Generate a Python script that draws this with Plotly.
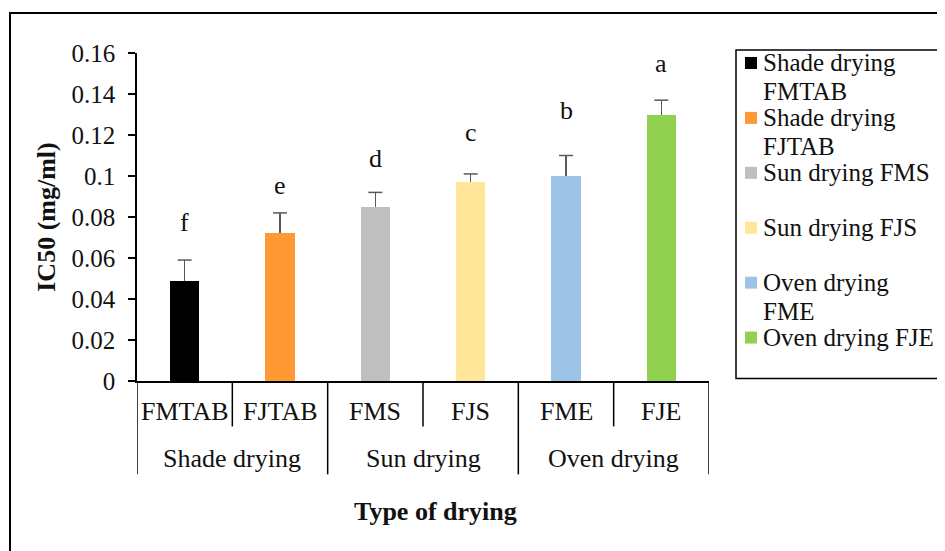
import plotly.graph_objects as go

# ---- data ----
categories = ["FMTAB", "FJTAB", "FMS", "FJS", "FME", "FJE"]
groups = ["Shade drying", "Sun drying", "Oven drying"]
legend_labels = [["Shade drying", "FMTAB"], ["Shade drying", "FJTAB"], ["Sun drying FMS"],
                 ["Sun drying FJS"], ["Oven drying", "FME"], ["Oven drying FJE"]]
ic50 = [0.049, 0.072, 0.085, 0.097, 0.100, 0.130]
err = [0.010, 0.010, 0.007, 0.004, 0.010, 0.007]
letters = ["f", "e", "d", "c", "b", "a"]
letter_y = [0.0773, 0.0953, 0.1084, 0.1210, 0.1318, 0.1547]
y_ticks = [0, 0.02, 0.04, 0.06, 0.08, 0.1, 0.12, 0.14, 0.16]
y_tick_text = ["0", "0.02", "0.04", "0.06", "0.08", "0.1", "0.12", "0.14", "0.16"]

colors = ["#000000", "#FF9933", "#BFBFBF", "#FFE699", "#9DC3E6", "#92D050"]
ERR_COLOR = "#595959"

# ---- layout geometry (window pixels; page body adds an 8px offset) ----
OFF = 8
W, H = 945 - OFF, 551 - OFF
L, R, T, B = 137, 709, 53, 381.5
FONT = "Liberation Serif"
TXT = "#111111"


def px_x(px):
    return (px - L) / (R - L)


def px_y(py):
    return (B - py) / (B - T)


fig = go.Figure()
for i, cat in enumerate(categories):
    fig.add_trace(go.Bar(
        x=[cat], y=[ic50[i]], name=" ".join(legend_labels[i]),
        marker=dict(color=colors[i], line=dict(width=0)),
        width=0.31, showlegend=False,
        error_y=dict(type="data", symmetric=False, array=[err[i]], arrayminus=[0],
                     color=ERR_COLOR, thickness=1.5, width=0),
    ))

# caps on the upper end of the error bars only
fig.add_trace(go.Scatter(
    x=categories, y=[v + e for v, e in zip(ic50, err)], mode="markers",
    marker=dict(symbol="line-ew", size=10, line=dict(color=ERR_COLOR, width=1.5)),
    showlegend=False, hoverinfo="skip",
))

annotations = []
shapes = []

# significance letters
for i, cat in enumerate(categories):
    annotations.append(dict(x=cat, y=letter_y[i], xref="x", yref="y", text=letters[i],
                            showarrow=False, font=dict(family=FONT, size=26, color=TXT),
                            yanchor="middle"))

# category labels
for i, cat in enumerate(categories):
    annotations.append(dict(x=cat, y=px_y(412), xref="x", yref="paper", text=cat,
                            showarrow=False, font=dict(family=FONT, size=26, color=TXT),
                            yanchor="middle"))
# group labels
for g, name in enumerate(groups):
    annotations.append(dict(x=2 * g + 0.5, y=px_y(459), xref="x", yref="paper", text=name,
                            showarrow=False, font=dict(family=FONT, size=26, color=TXT),
                            yanchor="middle"))

# divider lines
for k in range(len(categories) + 1):
    pos = k - 0.5
    end = 475 if k % 2 == 0 else 427
    shapes.append(dict(type="line", xref="x", yref="paper", x0=pos, x1=pos,
                       y0=0, y1=px_y(end), line=dict(color="black", width=1.5)))

# axis titles
annotations.append(dict(x=px_x(435), y=px_y(512), xref="paper", yref="paper",
                        text="<b>Type of drying</b>", showarrow=False,
                        font=dict(family=FONT, size=26, color=TXT), yanchor="middle"))
annotations.append(dict(x=px_x(47), y=px_y(218), xref="paper", yref="paper",
                        text="<b>IC50 (mg/ml)</b>", showarrow=False, textangle=-90,
                        font=dict(family=FONT, size=26, color=TXT),
                        xanchor="center", yanchor="middle"))

# outer chart frame
shapes.append(dict(type="rect", xref="paper", yref="paper", x0=px_x(10), x1=px_x(960),
                   y0=px_y(570), y1=px_y(13), line=dict(color="black", width=2)))

# legend (box, swatches, labels)
shapes.append(dict(type="rect", xref="paper", yref="paper", x0=px_x(736), x1=px_x(960),
                   y0=px_y(379), y1=px_y(50), line=dict(color="black", width=1.5)))
for i, lines in enumerate(legend_labels):
    cy = 63 + 55 * i
    shapes.append(dict(type="rect", xref="paper", yref="paper", x0=px_x(745), x1=px_x(757),
                       y0=px_y(cy + 6), y1=px_y(cy - 6), fillcolor=colors[i],
                       line=dict(width=0)))
    for j, line in enumerate(lines):
        annotations.append(dict(x=px_x(761), y=px_y(cy + 29 * j), xref="paper", yref="paper",
                                text=line, showarrow=False, align="left",
                                xanchor="left", yanchor="middle",
                                font=dict(family=FONT, size=25, color=TXT)))

fig.update_layout(
    width=W, height=H,
    margin=dict(l=L - OFF, r=W - (R - OFF), t=T - OFF, b=H - (B - OFF)),
    paper_bgcolor="white", plot_bgcolor="white",
    barmode="overlay", bargap=0,
    xaxis=dict(type="category", categoryorder="array", categoryarray=categories,
               range=[-0.5, 5.5], showticklabels=False, ticks="", showgrid=False,
               showline=True, linecolor="black", linewidth=1.5, zeroline=False),
    yaxis=dict(range=[0, 0.16], tickvals=y_ticks, ticktext=y_tick_text,
               ticks="outside", ticklen=7, tickwidth=1.5, tickcolor="black",
               showline=True, linecolor="black", linewidth=1.5, showgrid=False,
               zeroline=False, ticklabelstandoff=8,
               tickfont=dict(family=FONT, size=25, color=TXT)),
    annotations=annotations, shapes=shapes,
    showlegend=False,
)

fig.write_html("out.html")
